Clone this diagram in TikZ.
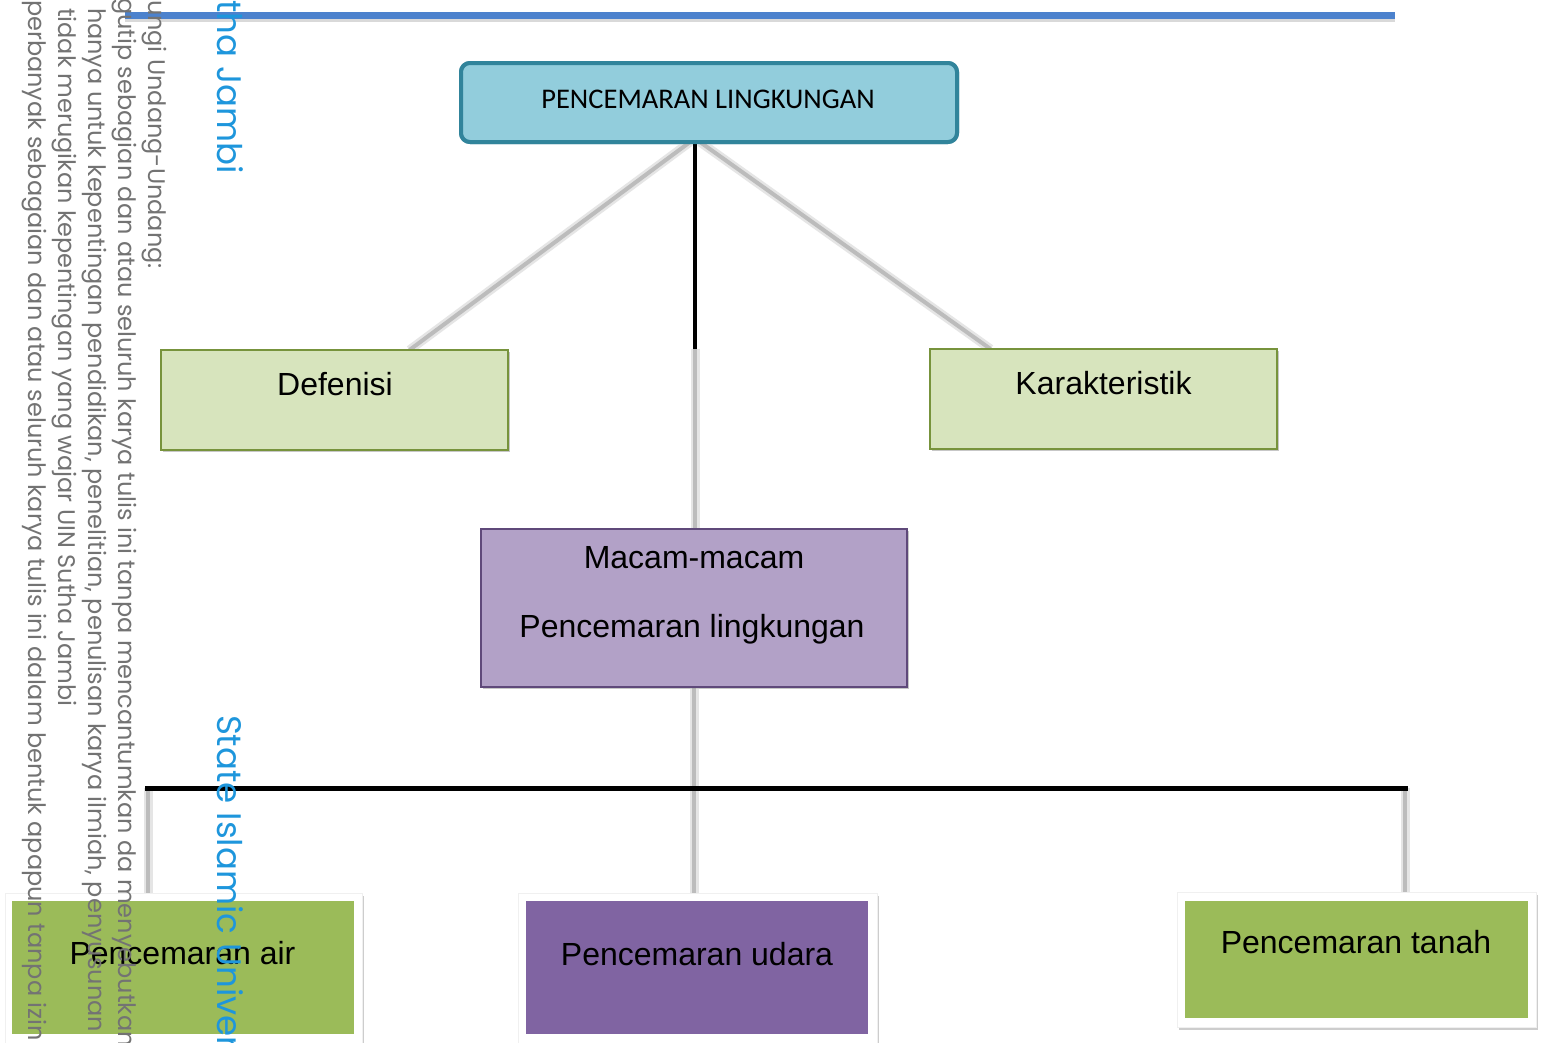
\documentclass[tikz,border=0pt]{standalone}
\usepackage{fontspec}
\setmainfont{Liberation Sans}
\newfontfamily\titlefont{Carlito}
\newfontfamily\wmfont{Poppins}
\usetikzlibrary{shadows,calc}
\definecolor{topfill}{RGB}{146,205,220}
\definecolor{topline}{RGB}{49,132,155}
\definecolor{lgreen}{RGB}{215,228,189}
\definecolor{lgreenline}{RGB}{119,147,60}
\definecolor{lpurple}{RGB}{178,161,199}
\definecolor{lpurpleline}{RGB}{95,73,122}
\definecolor{dgreen}{RGB}{155,187,89}
\definecolor{dpurple}{RGB}{128,100,162}
\definecolor{wmblue}{RGB}{30,150,220}
\definecolor{topblue}{RGB}{76,130,205}
\definecolor{connc}{RGB}{188,188,188}
\begin{document}
\begin{tikzpicture}[x=1pt,y=-1pt,
  every node/.style={inner sep=0pt, outer sep=0pt},
  topbox/.style={draw=topline, line width=4pt, fill=topfill, rounded corners=9pt},
  greenbox/.style={draw=lgreenline, line width=1.5pt, fill=lgreen,
     drop shadow={shadow xshift=2pt, shadow yshift=-2pt, opacity=0.25}},
  purplebox/.style={draw=lpurpleline, line width=1.5pt, fill=lpurple,
     drop shadow={shadow xshift=2pt, shadow yshift=-2pt, opacity=0.25}},
  frame/.style={fill=white, draw=black!6, line width=0.6pt,
     drop shadow={shadow xshift=2pt, shadow yshift=-3pt, opacity=0.22}},
  leafg/.style={fill=dgreen},
  leafp/.style={fill=dpurple},
  lbl/.style={anchor=base, font=\fontsize{32}{38}\selectfont},
  conn/.style={draw=connc, line width=4pt, preaction={draw=black!10, line width=9pt}},
  blackline/.style={draw=black, line width=4.5pt},
  wm/.style={anchor=base west, rotate=-90, text=black!55, font=\wmfont\fontsize{24}{28}\selectfont},
  wmb/.style={anchor=base west, rotate=-90, text=wmblue, font=\wmfont\fontsize{34}{40}\selectfont}
]
\useasboundingbox (0,0) rectangle (1541,1042);
\clip (0,0) rectangle (1541,1042);
\fill[white] (0,0) rectangle (1541,1042);

% top blue rule
\draw[draw=black!15, line width=10pt] (125,17) -- (1395,17);
\draw[draw=topblue, line width=7pt] (125,15) -- (1395,15);

% nodes (boxes)
\node[topbox, minimum width=496pt, minimum height=79pt] (top) at (709,102.5) {};
\node[greenbox, minimum width=347pt, minimum height=100pt] (defenisi) at (334.5,400) {};
\node[greenbox, minimum width=347pt, minimum height=100pt] (karakter) at (1103.5,399) {};
\node[purplebox, minimum width=426pt, minimum height=158pt] (macam) at (694,608) {};

\node[frame, minimum width=357pt, minimum height=160pt] (airf) at (183.5,973) {};
\node[frame, minimum width=359pt, minimum height=160pt] (udaraf) at (697.5,973) {};
\node[frame, minimum width=359pt, minimum height=135pt] (tanahf) at (1356.5,959.5) {};

% connectors
\coordinate (j1) at (695,349);
\coordinate (barL) at (145,788);
\coordinate (barR) at (1408,788);
\coordinate (dropL) at (148,788);
\coordinate (dropR) at (1405,788);

\draw[conn] ([xshift=-5pt]top.south -| j1) -- ([xshift=75pt]defenisi.north);
\draw[conn] ([xshift=5pt]top.south -| j1) -- ([xshift=-113pt]karakter.north);
\draw[conn] (j1) -- (j1 |- macam.north);
\draw[conn] (macam.south) -- (macam.south |- udaraf.north);
\draw[conn] (dropL) -- (dropL |- airf.north);
\draw[conn] (dropR) -- (dropR |- tanahf.north);
\draw[blackline] (top.south -| j1) -- (j1);
\draw[blackline, line width=5pt] (barL) -- (barR);

% redraw boxes on top of connector ends
\node[topbox, minimum width=496pt, minimum height=79pt] at (top.center) {};
\node[greenbox, minimum width=347pt, minimum height=100pt] at (defenisi.center) {};
\node[greenbox, minimum width=347pt, minimum height=100pt] at (karakter.center) {};
\node[purplebox, minimum width=426pt, minimum height=158pt] at (macam.center) {};
\node[frame, minimum width=357pt, minimum height=160pt] at (airf.center) {};
\node[frame, minimum width=359pt, minimum height=160pt] at (udaraf.center) {};
\node[frame, minimum width=359pt, minimum height=135pt] at (tanahf.center) {};

\node[leafg, minimum width=342pt, minimum height=133pt] (air) at (183,967.5) {};
\node[leafp, minimum width=342pt, minimum height=133pt] (udara) at (697,967.5) {};
\node[leafg, minimum width=343pt, minimum height=117pt] (tanah) at (1356.5,959.5) {};

% texts
\node[anchor=base, font=\titlefont\fontsize{28.5}{34}\selectfont] (toptxt) at (708,108) {PENCEMARAN LINGKUNGAN};
\node[lbl] (deftxt) at (335,395) {Defenisi};
\node[lbl] (kartxt) at (1103.5,394) {Karakteristik};
\node[lbl] (mactxt1) at (694,568) {Macam-macam};
\node[lbl] (mactxt2) at (692,637) {Pencemaran lingkungan};
\node[lbl] (airtxt) at (182.5,964) {Pencemaran air};
\node[lbl] (udaratxt) at (697,965) {Pencemaran udara};
\node[lbl] (tanahtxt) at (1356,953) {Pencemaran tanah};

% watermark
\node[wm] (wm1) at (148,0) {ungi Undang-Undang:};
\node[wm] (wm2) at (118,-2) {gutip sebagian dan atau seluruh karya tulis ini tanpa mencantumkan da menyebutkan};
\node[wm] (wm3) at (88,8) {hanya untuk kepentingan pendidikan, penelitian, penulisan karya ilmiah, penyusunan};
\node[wm] (wm4) at (58,8) {tidak merugikan kepentingan yang wajar UIN Sutha Jambi};
\node[wm] (wm5) at (28,0) {perbanyak sebagaian dan atau seluruh karya tulis ini dalam bentuk apapun tanpa izin};
\node[wmb] (wmb1) at (217,0) {tha Jambi};
\node[wmb] (wmb2) at (217,715) {State Islamic Univer};
\end{tikzpicture}
\end{document}
